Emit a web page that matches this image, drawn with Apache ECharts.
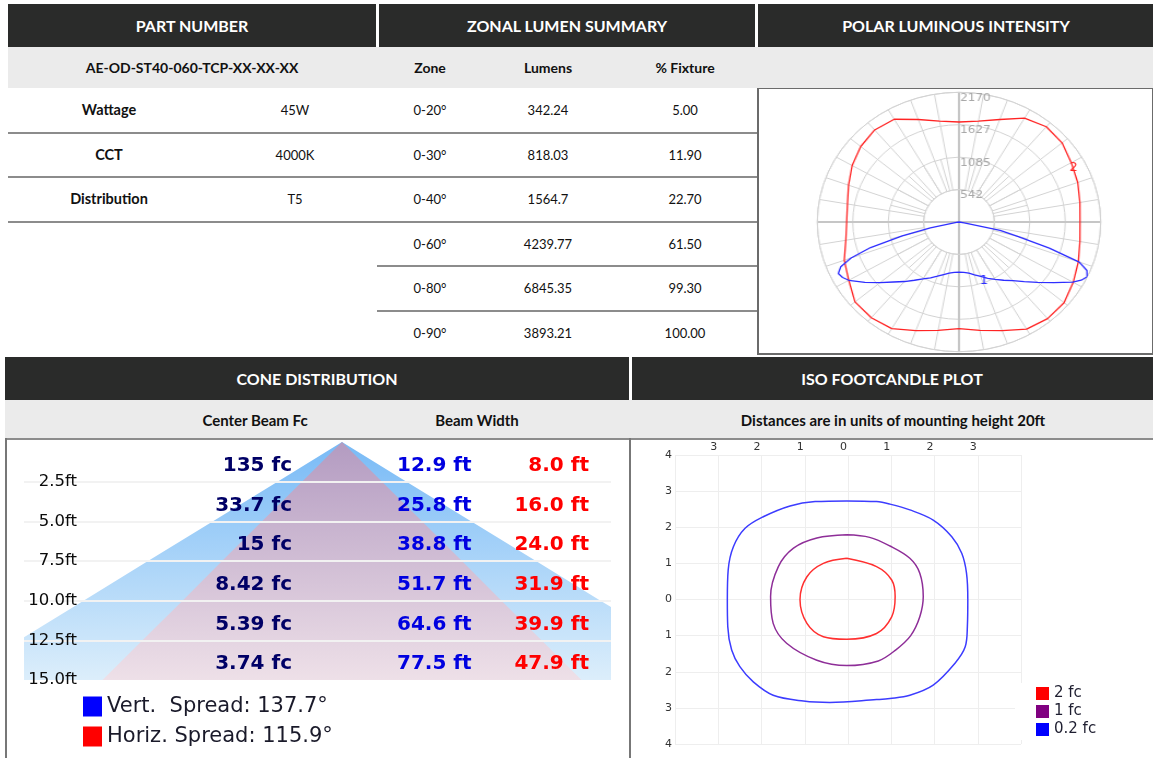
<!DOCTYPE html>
<html>
<head>
<meta charset="utf-8">
<title>Photometric spec sheet</title>
<script src="https://cdn.jsdelivr.net/npm/echarts/dist/echarts.min.js"></script>
<style>
html,body{margin:0;padding:0;background:#fff;}
body{width:1153px;height:758px;position:relative;overflow:hidden;font-family:Lato,"Open Sans",sans-serif;color:#111;}
.box{position:absolute;}
.t{position:absolute;white-space:nowrap;transform:translate(-50%,-50%);font-size:13px;line-height:1;}
.hd{color:#fff;font-weight:700;font-size:16px;}
.b{font-weight:700;font-size:14px;}
.bl{font-weight:700;font-size:14.5px;}
.b2{font-weight:700;font-size:15px;}
</style>
</head>
<body>
<div id="layer"></div>
<div id="polar" class="box" style="left:818.7px;top:81.5px;width:280px;height:280px;transform:scaleX(1.0925);transform-origin:50% 50%;"></div>
<div id="cone" class="box" style="left:5px;top:440px;width:625px;height:318px;"></div>
<div id="iso" class="box" style="left:630px;top:440px;width:523px;height:318px;"></div>
<script>
// ---------------- DATA ----------------
const topHeaders = ['PART NUMBER', 'ZONAL LUMEN SUMMARY', 'POLAR LUMINOUS INTENSITY'];
const partNumber = 'AE-OD-ST40-060-TCP-XX-XX-XX';
const specLabels = ['Wattage', 'CCT', 'Distribution'];
const specValues = ['45W', '4000K', 'T5'];
const zoneHeaders = ['Zone', 'Lumens', '% Fixture'];
const zones = ['0-20°', '0-30°', '0-40°', '0-60°', '0-80°', '0-90°'];
const zoneLumens = ['342.24', '818.03', '1564.7', '4239.77', '6845.35', '3893.21'];
const zonePct = ['5.00', '11.90', '22.70', '61.50', '99.30', '100.00'];
const bottomHeaders = ['CONE DISTRIBUTION', 'ISO FOOTCANDLE PLOT'];
const coneSubHeaders = ['Center Beam Fc', 'Beam Width'];
const isoSubHeader = 'Distances are in units of mounting height 20ft';

// polar luminous intensity (candela), angle from nadir
const ringStep = 542.5;
const ringCount = 4;
const redAngles = [0,10,20,30,40,50,60,70,80,90,100,110,120,130,140,150,160,170,180];
const redLeft  = [1785,1840,1935,2060,2090,2080,1950,1870,1760,1720,1735,1800,1890,1965,2010,1985,1825,1715,1673];
const redRight = [1785,1840,1935,2070,2110,2100,2020,1945,1880,1853,1880,1935,1985,2060,2080,2005,1825,1715,1673];
const blueAngles = [0,5,10,15,20,25,30,35,40,45,50,55,60,62.5,65,67.5,70,72.5,75,77.5,80,85,90];
const blueLeft  = [837,845,870,910,965,1030,1100,1190,1300,1420,1580,1760,1950,2010,2040,1960,1760,1420,900,450,40,0,0];
const blueRight = [837,845,870,915,970,1040,1110,1190,1280,1410,1570,1770,2010,2110,2165,2120,1960,1450,940,645,80,0,0];
const curveNames = ['1', '2'];

// cone distribution
const coneDepths = [2.5, 5.0, 7.5, 10.0, 12.5, 15.0];
const centerFc = ['135', '33.7', '15', '8.42', '5.39', '3.74'];
const vertWidth = [12.9, 25.8, 38.8, 51.7, 64.6, 77.5];
const horizWidth = [8.0, 16.0, 24.0, 31.9, 39.9, 47.9];
const vertSpread = 137.7;
const horizSpread = 115.9;

// iso footcandle contours (units of mounting height)
const isoLevels = ['2 fc', '1 fc', '0.2 fc'];
const iso2fc = [[-0.03,1.14],[-0.57,1.00],[-0.95,0.63],[-1.11,0.0],[-0.95,-0.66],[-0.57,-1.03],[-0.03,-1.10],[0.66,-0.94],[1.01,-0.48],[1.09,0.08],[1.01,0.54],[0.66,0.91]];
const iso1fc = [[-0.03,1.79],[-0.72,1.70],[-1.26,1.42],[-1.61,0.91],[-1.79,0.08],[-1.73,-0.66],[-1.42,-1.21],[-0.72,-1.68],[-0.03,-1.83],[0.70,-1.70],[1.10,-1.40],[1.45,-1.00],[1.66,-0.48],[1.74,0.08],[1.66,0.73],[1.43,1.14],[0.97,1.48],[0.50,1.72]];
const iso02fc = [[-0.03,2.73],[-0.76,2.71],[-1.34,2.59],[-1.96,2.29],[-2.38,1.97],[-2.65,1.46],[-2.77,0.82],[-2.79,0.0],[-2.78,-0.75],[-2.69,-1.40],[-2.50,-1.86],[-2.19,-2.28],[-1.73,-2.65],[-1.03,-2.81],[-0.42,-2.85],[0.66,-2.77],[0.97,-2.74],[1.43,-2.65],[1.97,-2.37],[2.47,-1.77],[2.71,-1.31],[2.76,-0.75],[2.77,0.0],[2.74,0.73],[2.63,1.28],[2.40,1.74],[1.97,2.20],[1.43,2.48],[0.97,2.64],[0.66,2.71]];

// ---------------- TABLE LAYOUT ----------------
const layer = document.getElementById('layer');
function rect(x, y, w, h, c) {
  const d = document.createElement('div');
  d.className = 'box';
  d.style.cssText = `left:${x}px;top:${y}px;width:${w}px;height:${h}px;background:${c};`;
  layer.appendChild(d);
}
function text(s, cx, cy, cls) {
  const d = document.createElement('div');
  d.className = 't ' + (cls || '');
  d.style.left = cx + 'px';
  d.style.top = cy + 'px';
  d.textContent = s;
  layer.appendChild(d);
}
const DARK = '#2a2b2a', GRAY = '#ebebeb', LINE = '#8c8c8c';
rect(8, 4, 1145, 43, DARK);
rect(376, 4, 2.5, 43, '#fff');
rect(755, 4, 2.5, 43, '#fff');
rect(8, 47, 1145, 41, GRAY);
[192, 567, 956].forEach((cx, i) => text(topHeaders[i], cx, 26, 'hd'));
text(partNumber, 192, 68, 'b');
[430, 548, 685].forEach((cx, i) => text(zoneHeaders[i], cx, 68, 'b'));
const rowTop = 88, rowH = 44.5;
zones.forEach((z, i) => {
  const cy = rowTop + rowH * i + rowH / 2;
  text(z, 430, cy);
  text(zoneLumens[i], 548, cy);
  text(zonePct[i], 685, cy);
  if (i < specLabels.length) {
    text(specLabels[i], 109, cy, 'bl');
    text(specValues[i], 295, cy);
  }
  if (i < zones.length - 1) {
    const ly = rowTop + rowH * (i + 1) - 1;
    if (i < specLabels.length) rect(8, ly, 749, 2, LINE);
    else rect(377, ly, 380, 2, LINE);
  }
});
// polar box border
rect(756.5, 87.5, 396.5, 1.5, '#6b6b6b');
rect(756.5, 88, 2, 267, '#6b6b6b');
rect(756.5, 353, 396.5, 2, '#6b6b6b');
rect(1151.5, 88, 1.5, 267, '#6b6b6b');
// bottom section headers
rect(5, 357, 1148, 43, DARK);
rect(629, 357, 2.5, 43, '#fff');
rect(5, 400, 1148, 38, GRAY);
text(bottomHeaders[0], 317, 379, 'hd');
text(bottomHeaders[1], 892, 379, 'hd');
text(coneSubHeaders[0], 255, 420, 'b2');
text(coneSubHeaders[1], 477, 420, 'b2');
text(isoSubHeader, 893, 420, 'b2');
rect(5, 438, 1148, 2, LINE);
rect(5, 438, 2, 320, '#777');
rect(628.5, 438, 2, 320, '#777');

// ---------------- POLAR CHART ----------------
const R = 129.7;
const polarMax = ringStep * ringCount;
function polarPts(angles, left, right) {
  const pts = [];
  angles.forEach((a, i) => pts.push([left[i], a]));
  for (let i = angles.length - 1; i >= 0; i--) pts.push([right[i], 360 - angles[i]]);
  return pts;
}
const fineAngles = Array.from({length: 72}, (_, i) => String(i * 5));
const gridGray = '#d3d3d3';
const polarChart = echarts.init(document.getElementById('polar'));
const blueLabelIdx = blueAngles.indexOf(20);
const redLabelIdx = redAngles.indexOf(120);
polarChart.setOption({
  animation: false,
  polar: [
    {center: ['50%', '50%'], radius: [R * 0.25, R]},
    {center: ['50%', '50%'], radius: [R * 0.25, R * 0.5]},
    {center: ['50%', '50%'], radius: [0, R]}
  ],
  angleAxis: [
    {polarIndex: 0, type: 'value', min: 0, max: 360, interval: 10, startAngle: 90,
     axisLine: {show: true, lineStyle: {color: gridGray, width: 1}}, axisTick: {show: false}, axisLabel: {show: false},
     splitLine: {show: true, lineStyle: {color: gridGray, width: 1}}},
    {polarIndex: 1, type: 'category', data: fineAngles, startAngle: -90,
     axisLine: {show: false}, axisTick: {show: false}, axisLabel: {show: false},
     splitLine: {show: true, interval: (idx) => { const a = idx * 5; return (a <= 90 || a >= 270) && a % 10 !== 0; }, lineStyle: {color: gridGray, width: 1}}},
    {polarIndex: 2, type: 'value', min: 0, max: 360, interval: 90, startAngle: -90, clockwise: true,
     axisLine: {show: false}, axisTick: {show: false}, axisLabel: {show: false},
     splitLine: {show: true, lineStyle: {color: '#c6c6c6', width: 2}}}
  ],
  radiusAxis: [
    {polarIndex: 0, type: 'value', min: ringStep, max: polarMax, interval: ringStep,
     axisLine: {show: false}, axisTick: {show: false},
     axisLabel: {show: true, margin: -1, align: 'left', verticalAlign: 'top', formatter: v => String(Math.floor(v)), color: '#a8a8a8', fontSize: 11, fontFamily: 'DejaVu Sans'},
     splitLine: {show: true, lineStyle: {color: gridGray, width: 1}}},
    {polarIndex: 1, type: 'value', min: 0, max: 1, show: false},
    {polarIndex: 2, type: 'value', min: 0, max: polarMax, axisLine: {show: false}, axisTick: {show: false}, axisLabel: {show: false}, splitLine: {show: false}}
  ],
  series: [
    {type: 'line', coordinateSystem: 'polar', polarIndex: 2, name: curveNames[1], data: polarPts(redAngles, redLeft, redRight),
     showSymbol: false, lineStyle: {color: '#ff2424', width: 1.3}, z: 3},
    {type: 'line', coordinateSystem: 'polar', polarIndex: 2, name: curveNames[0], data: polarPts(blueAngles, blueLeft, blueRight),
     showSymbol: false, lineStyle: {color: '#2e2eff', width: 1.3}, z: 3},
    {type: 'scatter', coordinateSystem: 'polar', polarIndex: 2, symbolSize: 0, silent: true, itemStyle: {opacity: 1},
     data: [[redRight[redLabelIdx], 360 - redAngles[redLabelIdx]]],
     label: {show: true, position: 'inside', offset: [2, 5], formatter: curveNames[1], color: '#ff2424', fontSize: 12, fontFamily: 'DejaVu Sans', opacity: 1}},
    {type: 'scatter', coordinateSystem: 'polar', polarIndex: 2, symbolSize: 0, silent: true, itemStyle: {opacity: 1},
     data: [[blueRight[blueLabelIdx], 360 - blueAngles[blueLabelIdx]]],
     label: {show: true, position: 'bottom', distance: 0, offset: [3, -2], formatter: curveNames[0], color: '#2e2eff', fontSize: 12, fontFamily: 'DejaVu Sans', opacity: 1}}
  ]
});

// ---------------- CONE CHART ----------------
const vName = 'Vert.  Spread: ' + vertSpread.toFixed(1) + '°';
const hName = 'Horiz. Spread: ' + horizSpread.toFixed(1) + '°';
function conePts(widths) {
  const pts = [];
  for (let i = coneDepths.length - 1; i >= 0; i--) pts.push([-widths[i] / 2, coneDepths[i]]);
  pts.push([0, 0]);
  coneDepths.forEach((d, i) => pts.push([widths[i] / 2, d]));
  return pts;
}
const lg = (a, b) => new echarts.graphic.LinearGradient(0, 0, 0, 1, [{offset: 0, color: a}, {offset: 1, color: b}]);
const rowMid = d => d - 1.0;
const labelFont = {fontSize: 20, fontWeight: 'bold', fontFamily: 'DejaVu Sans', opacity: 1};
const coneChart = echarts.init(document.getElementById('cone'));
coneChart.setOption({
  animation: false,
  grid: {left: 19, right: 19, top: 2, bottom: 78},
  xAxis: {type: 'value', min: -31.8, max: 26.9, show: false},
  yAxis: {type: 'value', inverse: true, min: 0, max: 15, interval: 2.5, z: 5,
    axisLine: {show: false}, axisTick: {show: false},
    axisLabel: {showMinLabel: false, margin: -53, align: 'right', formatter: v => v.toFixed(1) + 'ft', fontSize: 16.5, fontFamily: 'DejaVu Sans', color: '#0a0a0a'},
    splitLine: {show: true, showMinLine: false, showMaxLine: false, lineStyle: {color: '#f2f2f2', width: 2}}},
  legend: {orient: 'vertical', left: 73, top: 251, itemWidth: 19, itemHeight: 20, itemGap: 9, icon: 'rect', selectedMode: false,
    textStyle: {fontSize: 21, fontFamily: 'DejaVu Sans', color: '#1a1a2a'},
    data: [{name: vName, itemStyle: {color: '#0000ff'}}, {name: hName, itemStyle: {color: '#ff0000'}}]},
  series: [
    {type: 'line', name: vName, data: conePts(vertWidth), showSymbol: false, lineStyle: {width: 0}, itemStyle: {color: '#0000ff'},
     areaStyle: {origin: 'end', color: lg('#78baf6', '#dceefb'), opacity: 1}, z: 1},
    {type: 'line', name: hName, data: conePts(horizWidth), showSymbol: false, lineStyle: {width: 0}, itemStyle: {color: '#ff0000'},
     areaStyle: {origin: 'end', color: lg('#b39bc1', '#eee0e8'), opacity: 1}, z: 2},
    {type: 'scatter', symbolSize: 0, silent: true, z: 6, itemStyle: {opacity: 1}, data: coneDepths.map(d => [-5.0, rowMid(d)]),
     label: Object.assign({show: true, position: 'left', distance: 0, formatter: p => centerFc[p.dataIndex] + ' fc', color: '#000066'}, labelFont)},
    {type: 'scatter', symbolSize: 0, silent: true, z: 6, itemStyle: {opacity: 1}, data: coneDepths.map(d => [5.5, rowMid(d)]),
     label: Object.assign({show: true, position: 'right', distance: 0, formatter: p => vertWidth[p.dataIndex].toFixed(1) + ' ft', color: '#0000e0'}, labelFont)},
    {type: 'scatter', symbolSize: 0, silent: true, z: 6, itemStyle: {opacity: 1}, data: coneDepths.map(d => [24.7, rowMid(d)]),
     label: Object.assign({show: true, position: 'left', distance: 0, formatter: p => horizWidth[p.dataIndex].toFixed(1) + ' ft', color: '#ff0000'}, labelFont)}
  ]
});

// ---------------- ISO FOOTCANDLE CHART ----------------
const closeLoop = pts => pts.concat([pts[0]]);
const isoData = [iso2fc, iso1fc, iso02fc];
const isoMarkColors = ['#ff0000', '#800080', '#0000ff'];
const isoLineColors = ['#ff3030', '#8e2e98', '#3c3cff'];
const isoChart = echarts.init(document.getElementById('iso'));
const isoAxisLabel = {formatter: v => String(Math.abs(v)), color: '#333', fontSize: 11, fontFamily: 'DejaVu Sans'};
isoChart.setOption({
  animation: false,
  grid: {left: 45, top: 15, width: 346, height: 289},
  xAxis: {type: 'value', position: 'top', min: -4, max: 4, interval: 1,
    axisLine: {show: false}, axisTick: {show: false},
    axisLabel: Object.assign({showMinLabel: false, showMaxLabel: false, margin: 2, padding: [0, 9, 0, 0]}, isoAxisLabel),
    splitLine: {show: true, lineStyle: {color: '#eeeeee', width: 1}}},
  yAxis: {type: 'value', min: -4, max: 4, interval: 1,
    axisLine: {show: false}, axisTick: {show: false},
    axisLabel: Object.assign({margin: 3}, isoAxisLabel),
    splitLine: {show: true, lineStyle: {color: '#eeeeee', width: 1}}},
  legend: {orient: 'vertical', left: 385, top: 243, itemWidth: 13, itemHeight: 13, itemGap: 3, icon: 'rect', selectedMode: false,
    backgroundColor: '#fff', padding: [3, 5, 3, 21],
    textStyle: {fontSize: 15, fontFamily: 'DejaVu Sans', color: '#1e1e30'}, data: isoLevels},
  series: isoLevels.map((name, i) => ({
    type: 'line', name, data: closeLoop(isoData[i]), smooth: 0.35, showSymbol: false,
    itemStyle: {color: isoMarkColors[i]}, lineStyle: {color: isoLineColors[i], width: 1.5}
  }))
});
</script>
</body>
</html>
